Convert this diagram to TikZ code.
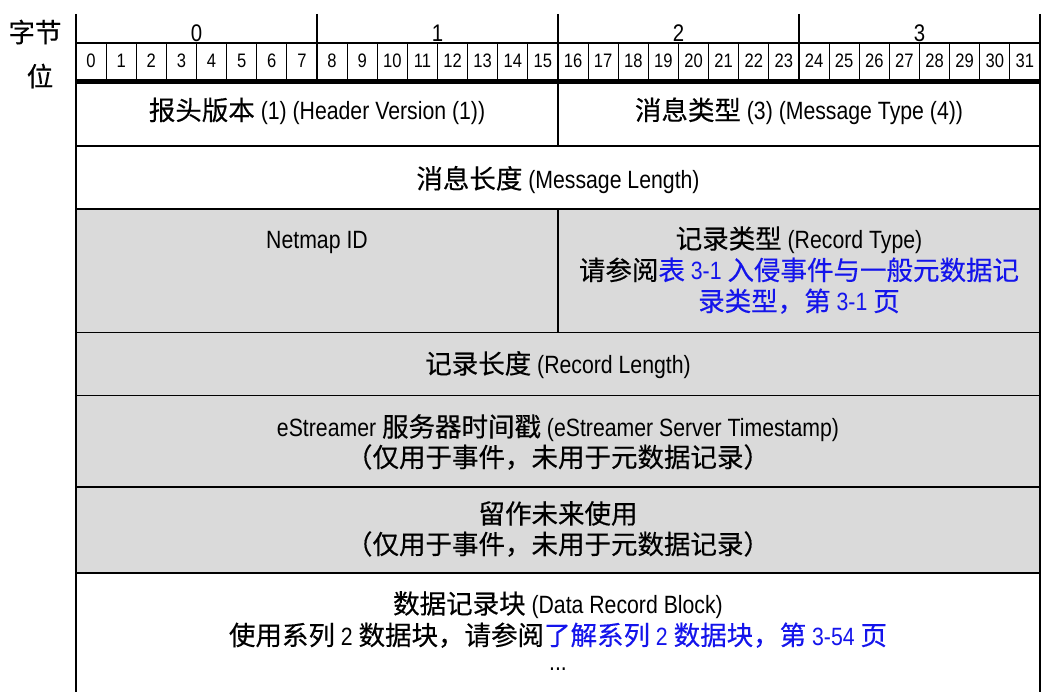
\documentclass[tikz,border=0pt]{standalone}
\usepackage{fontspec}
\setmainfont[FakeStretch=0.85]{Liberation Sans}
\newfontfamily\cjkfont[Scale=1.06,FakeBold=0.4]{Noto Sans CJK SC}
\newcommand{\zhtxt}[1]{{\cjkfont #1}}
\definecolor{cellgray}{RGB}{218,218,218}
\definecolor{linkblue}{RGB}{20,20,235}
\begin{document}
\begin{tikzpicture}[x=1pt,y=-1pt,
  txt/.style={font=\fontsize{25}{31}\selectfont, inner sep=0pt, anchor=base},
  bitnum/.style={font=\fontsize{19.5}{21}\selectfont, inner sep=0pt, anchor=base},
  bytenum/.style={font=\fontsize{24}{26}\selectfont, inner sep=0pt, anchor=base},
  sidelabel/.style={font=\fontsize{25}{27}\selectfont, inner sep=0pt},
  bitline/.style={line width=1pt},
  byteline/.style={line width=2pt},
  rowline/.style={line width=1.5pt},
  thinrow/.style={line width=1pt},
  thickrow/.style={line width=2pt}]
\useasboundingbox (0,0) rectangle (1042,692);
% gray area
\fill[cellgray] (76,209) rectangle (1040,573);
% side labels
\node[sidelabel] (lbyte) at (35,32) {\zhtxt{字节}};
\node[sidelabel] (lbit) at (40,76) {\zhtxt{位}};
% outer verticals
\draw[byteline] (76,14) -- (76,692);
\draw[byteline] (1040,14) -- (1040,692);
% line under byte numbers
\draw[line width=1.3pt] (76,43) -- (1040,43);
% bit dividers
\foreach \i in {1,...,31} {
  \draw[bitline] ({76+30.125*\i},43) -- ({76+30.125*\i},81);
}
\foreach \i in {8,16,24} {
  \draw[byteline] ({76+30.125*\i},14) -- ({76+30.125*\i},81);
}
% byte numbers
\foreach \b in {0,1,2,3} {
  \node[bytenum] (byte\b) at ({76+30.125*(8*\b+4)},41.5) {\b};
}
% bit numbers
\foreach \i in {0,...,31} {
  \node[bitnum] (bit\i) at ({76+30.125*(\i+0.5)},67.5) {\i};
}
% thick separator
\draw[line width=4.5pt] (75,81.5) -- (1041,81.5);
% row separators
\draw[rowline] (76,146) -- (1040,146);
\draw[rowline] (76,209) -- (1040,209);
\draw[thinrow] (76,333) -- (1040,333);
\draw[thinrow] (76,396) -- (1040,396);
\draw[thickrow] (76,487) -- (1040,487);
\draw[thickrow] (76,573) -- (1040,573);
% inner vertical dividers
\draw[byteline] (558,82) -- (558,146);
\draw[byteline] (558,209) -- (558,333);
% row 1
\node[txt] (hv) at (317,120) {\zhtxt{报头版本} (1) (Header Version (1))};
\node[txt] (mt) at (799,120) {\zhtxt{消息类型} (3) (Message Type (4))};
% row 2
\node[txt] (ml) at (558,188.5) {\zhtxt{消息长度} (Message Length)};
% row 3
\node[txt] (nid) at (317,248.5) {Netmap ID};
\node[txt] (rt1) at (799,248.5) {\zhtxt{记录类型} (Record Type)};
\node[txt] (rt2) at (799,280) {\zhtxt{请参阅}\textcolor{linkblue}{\zhtxt{表} 3-1 \zhtxt{入侵事件与一般元数据记}}};
\node[txt] (rt3) at (799,311) {\textcolor{linkblue}{\zhtxt{录类型，第} 3-1 \zhtxt{页}}};
% row 4
\node[txt] (rl) at (558,373.5) {\zhtxt{记录长度} (Record Length)};
% row 5
\node[txt] (ts1) at (558,436.5) {eStreamer \zhtxt{服务器时间戳} (eStreamer Server Timestamp)};
\node[txt] (ts2) at (558,467) {\zhtxt{（仅用于事件，未用于元数据记录）}};
% row 6
\node[txt] (rf1) at (558,523.5) {\zhtxt{留作未来使用}};
\node[txt] (rf2) at (558,554) {\zhtxt{（仅用于事件，未用于元数据记录）}};
% row 7
\node[txt] (db1) at (558,613.5) {\zhtxt{数据记录块} (Data Record Block)};
\node[txt] (db2) at (558,645) {\zhtxt{使用系列} 2 \zhtxt{数据块，请参阅}\textcolor{linkblue}{\zhtxt{了解系列} 2 \zhtxt{数据块，第} 3-54 \zhtxt{页}}};
\node[txt] (db3) at (558,670) {...};
\end{tikzpicture}
\end{document}
